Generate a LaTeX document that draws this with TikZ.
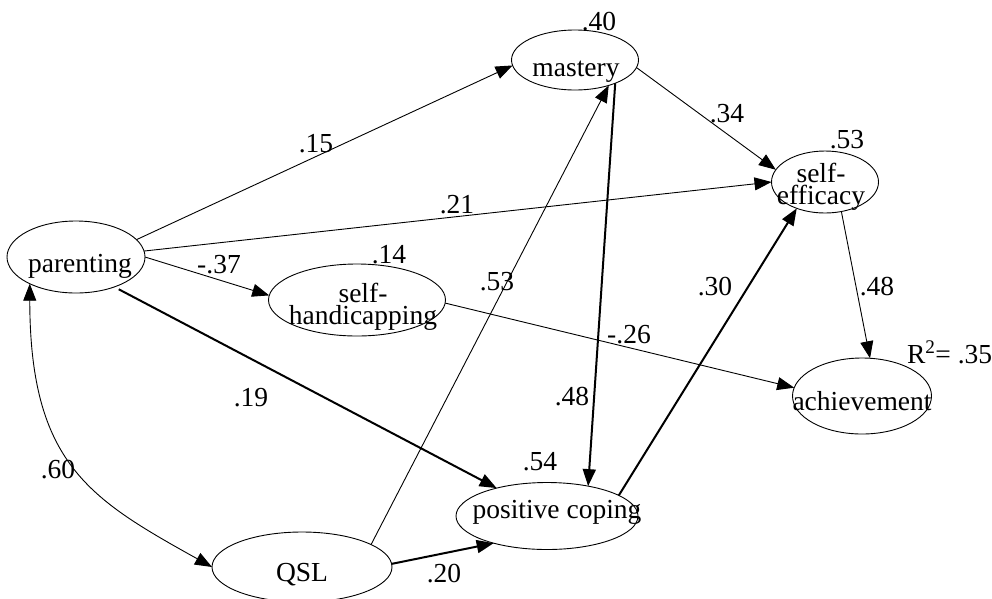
\documentclass[tikz,border=0pt]{standalone}
\usepackage{fontspec}
\setmainfont{Liberation Serif}
\usetikzlibrary{shapes.geometric,arrows.meta}
\begin{document}
\begin{tikzpicture}[x=1pt,y=-1pt,
  var/.style={ellipse,draw,line width=0.9pt,inner sep=0pt,outer sep=0pt},
  txt/.style={anchor=base,inner sep=0pt,outer sep=0pt,font=\fontsize{27.5}{27.5}\selectfont},
  txttwo/.style={anchor=base,inner sep=0pt,outer sep=0pt,align=center,font=\fontsize{27.5}{21.5}\selectfont},
  tip/.style={-{Triangle[length=17pt,width=13pt]}},
  thinpath/.style={line width=0.9pt,tip},
  thickpath/.style={line width=2pt,tip},
]
\useasboundingbox (0,0) rectangle (992,598);

% variables
\node[var, minimum width=138pt, minimum height=72pt] (parenting) at (76,257) {};
\node[var, minimum width=127pt, minimum height=60pt] (mastery) at (575,60) {};
\node[var, minimum width=107pt, minimum height=62pt] (selfeff) at (825,182) {};
\node[var, minimum width=139pt, minimum height=76pt] (achievement) at (862,396) {};
\node[var, minimum width=177pt, minimum height=72pt] (selfhand) at (357,300) {};
\node[var, minimum width=182pt, minimum height=67pt] (poscoping) at (547,516) {};
\node[var, minimum width=180pt, minimum height=70pt] (QSL) at (302,567) {};

% variable texts
\node[txt] (parenting-t) at (80,272) {parenting};
\node[txt] (mastery-t) at (576,76) {mastery};
\node[txttwo] (selfeff-t) at (821,204) {self-\\efficacy};
\node[txttwo] (selfhand-t) at (363,324) {self-\\handicapping};
\node[txt] (achievement-t) at (862,410) {achievement};
\node[txt] (poscoping-t) at (557,518) {positive coping};
\node[txt] (QSL-t) at (302,581) {QSL};

% paths
\draw[thinpath] (parenting.16) -- (mastery.185);
\draw[thinpath] (parenting.5) -- (selfeff.180);
\draw[thinpath] (parenting.0) -- (selfhand.177);
\draw[thickpath, shorten <=5pt] (parenting.-38) -- (poscoping.151);
\draw[line width=0.9pt, {Triangle[length=17pt,width=13pt]}-{Triangle[length=17pt,width=13pt]}]
  (parenting.210) .. controls (30,464) and (90,499) .. (QSL.180);
\draw[thinpath] (QSL.18) -- (mastery.-37);
\draw[thickpath] (QSL.2) -- (poscoping.207);
\draw[thinpath] (mastery.-7) -- (selfeff.166);
\draw[thickpath] (mastery.-30) -- (poscoping.36);
\draw[thickpath] (poscoping.16) -- (selfeff.223);
\draw[thinpath] (selfhand.-2) -- (achievement.173);
\draw[thinpath] (selfeff.-61) -- (achievement.78);

% coefficients
\node[txt] (c40) at (599,30) {.40};
\node[txt] (c53a) at (847,148) {.53};
\node[txt, anchor=base west] (r2) at (907,363) {R\textsuperscript{2}= .35};
\node[txt] (c48a) at (877,295) {.48};
\node[txt] (c30) at (715,295) {.30};
\node[txt] (c14) at (389,263) {.14};
\node[txt] (c53b) at (497,290) {.53};
\node[txt] (c26) at (629,343) {-.26};
\node[txt] (c48b) at (572,405) {.48};
\node[txt] (c19) at (251,406) {.19};
\node[txt] (c37) at (219,273) {-.37};
\node[txt] (c60) at (58,478) {.60};
\node[txt] (c54) at (540,470) {.54};
\node[txt] (c20) at (444,582) {.20};
\node[txt] (c15) at (316,152) {.15};
\node[txt] (c21) at (457,213) {.21};
\node[txt] (c34) at (727,122) {.34};
\end{tikzpicture}
\end{document}
